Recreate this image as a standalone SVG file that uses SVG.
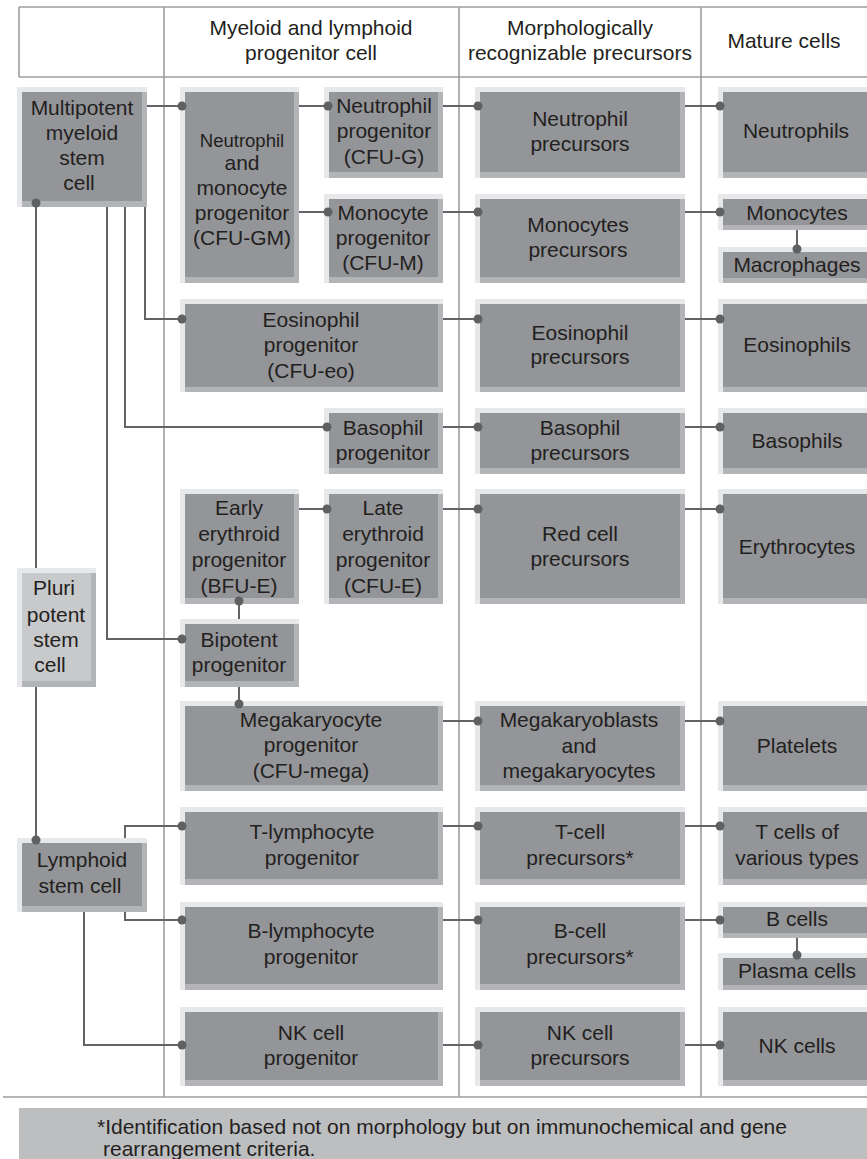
<svg xmlns="http://www.w3.org/2000/svg" width="867" height="1159" viewBox="0 0 867 1159">
<style>
.lt{fill:#e7e8e9}
.md{fill:#b3b4b7}
.dk{fill:#939598}
.pl{fill:#c8c9cb}
.grid{stroke:#9d9ea0;stroke-width:1.6;fill:none}
.con{stroke:#636466;stroke-width:2;fill:none}
.dot{fill:#5f6062}
text{font-family:"Liberation Sans",Arial,sans-serif;font-size:21px;fill:#231f20;text-anchor:middle}
.fn{text-anchor:start}
</style>
<rect width="867" height="1159" fill="#ffffff"/>
<g id="grid">
<path class="grid" d="M19,7H867M19,77H867M19,7V77M164,7V1097M459,7V1097M701,7V1097M3,1097H867"/>
</g>
<g id="headers">
<text x="311" y="35">Myeloid and lymphoid</text>
<text x="311" y="60">progenitor cell</text>
<text x="580" y="35">Morphologically</text>
<text x="580" y="60">recognizable precursors</text>
<text x="784" y="48">Mature cells</text>
</g>
<g id="multipotent">
<rect class="lt" x="17" y="87" width="130" height="120"/><rect class="md" x="22" y="92" width="125" height="115"/><rect class="dk" x="22" y="92" width="120" height="109"/>
<text x="82" y="115">Multipotent</text><text x="82" y="140">myeloid</text><text x="82" y="165">stem</text><text x="79" y="190">cell</text>
</g>
<g id="cfu-gm">
<rect class="lt" x="180" y="87" width="119" height="196"/><rect class="md" x="185" y="92" width="114" height="191"/><rect class="dk" x="185" y="92" width="109" height="185"/>
<text x="242" y="147" style="font-size:18.5px">Neutrophil</text><text x="242" y="170">and</text><text x="242" y="195">monocyte</text><text x="242" y="220">progenitor</text><text x="242" y="245">(CFU-GM)</text>
</g>
<g id="cfu-g">
<rect class="lt" x="324" y="87" width="119" height="91"/><rect class="md" x="329" y="92" width="114" height="86"/><rect class="dk" x="329" y="92" width="109" height="80"/>
<text x="384" y="113">Neutrophil</text><text x="384" y="138">progenitor</text><text x="384" y="164">(CFU-G)</text>
</g>
<g id="cfu-m">
<rect class="lt" x="324" y="194" width="119" height="89"/><rect class="md" x="329" y="199" width="114" height="84"/><rect class="dk" x="329" y="199" width="109" height="78"/>
<text x="383" y="220">Monocyte</text><text x="383" y="245">progenitor</text><text x="383" y="270">(CFU-M)</text>
</g>
<g id="neut-prec">
<rect class="lt" x="475" y="87" width="210" height="91"/><rect class="md" x="480" y="92" width="205" height="86"/><rect class="dk" x="480" y="92" width="200" height="80"/>
<text x="580" y="126">Neutrophil</text><text x="580" y="151">precursors</text>
</g>
<g id="neutrophils">
<rect class="lt" x="718" y="87" width="162" height="91"/><rect class="md" x="723" y="92" width="157" height="86"/><rect class="dk" x="723" y="92" width="152" height="80"/>
<text x="796" y="138">Neutrophils</text>
</g>
<g id="mono-prec">
<rect class="lt" x="475" y="194" width="210" height="89"/><rect class="md" x="480" y="199" width="205" height="84"/><rect class="dk" x="480" y="199" width="200" height="78"/>
<text x="578" y="232">Monocytes</text><text x="578" y="257">precursors</text>
</g>
<g id="monocytes">
<rect class="lt" x="718" y="194" width="162" height="36"/><rect class="md" x="723" y="199" width="157" height="31"/><rect class="dk" x="723" y="199" width="152" height="26"/>
<text x="797" y="220">Monocytes</text>
</g>
<g id="macrophages">
<rect class="lt" x="718" y="247" width="162" height="36"/><rect class="md" x="723" y="252" width="157" height="31"/><rect class="dk" x="723" y="252" width="152" height="26"/>
<text x="797" y="272">Macrophages</text>
</g>
<g id="cfu-eo">
<rect class="lt" x="180" y="299" width="263" height="93"/><rect class="md" x="185" y="304" width="258" height="88"/><rect class="dk" x="185" y="304" width="253" height="83"/>
<text x="311" y="327">Eosinophil</text><text x="311" y="352">progenitor</text><text x="311" y="378">(CFU-eo)</text>
</g>
<g id="eos-prec">
<rect class="lt" x="475" y="299" width="210" height="93"/><rect class="md" x="480" y="304" width="205" height="88"/><rect class="dk" x="480" y="304" width="200" height="83"/>
<text x="580" y="340">Eosinophil</text><text x="580" y="364">precursors</text>
</g>
<g id="eosinophils">
<rect class="lt" x="718" y="299" width="162" height="93"/><rect class="md" x="723" y="304" width="157" height="88"/><rect class="dk" x="723" y="304" width="152" height="83"/>
<text x="797" y="352">Eosinophils</text>
</g>
<g id="baso-prog">
<rect class="lt" x="324" y="408" width="119" height="66"/><rect class="md" x="329" y="413" width="114" height="61"/><rect class="dk" x="329" y="413" width="109" height="55"/>
<text x="383" y="435">Basophil</text><text x="383" y="460">progenitor</text>
</g>
<g id="baso-prec">
<rect class="lt" x="475" y="408" width="210" height="66"/><rect class="md" x="480" y="413" width="205" height="61"/><rect class="dk" x="480" y="413" width="200" height="55"/>
<text x="580" y="435">Basophil</text><text x="580" y="460">precursors</text>
</g>
<g id="basophils">
<rect class="lt" x="718" y="408" width="162" height="66"/><rect class="md" x="723" y="413" width="157" height="61"/><rect class="dk" x="723" y="413" width="152" height="55"/>
<text x="797" y="448">Basophils</text>
</g>
<g id="bfu-e">
<rect class="lt" x="180" y="489" width="119" height="115"/><rect class="md" x="185" y="494" width="114" height="110"/><rect class="dk" x="185" y="494" width="109" height="104"/>
<text x="239" y="515">Early</text><text x="239" y="541">erythroid</text><text x="239" y="567">progenitor</text><text x="239" y="593">(BFU-E)</text>
</g>
<g id="cfu-e">
<rect class="lt" x="324" y="489" width="119" height="115"/><rect class="md" x="329" y="494" width="114" height="110"/><rect class="dk" x="329" y="494" width="109" height="104"/>
<text x="383" y="515">Late</text><text x="383" y="541">erythroid</text><text x="383" y="567">progenitor</text><text x="383" y="593">(CFU-E)</text>
</g>
<g id="red-prec">
<rect class="lt" x="475" y="489" width="210" height="115"/><rect class="md" x="480" y="494" width="205" height="110"/><rect class="dk" x="480" y="494" width="200" height="104"/>
<text x="580" y="541">Red cell</text><text x="580" y="566">precursors</text>
</g>
<g id="erythrocytes">
<rect class="lt" x="718" y="489" width="162" height="115"/><rect class="md" x="723" y="494" width="157" height="110"/><rect class="dk" x="723" y="494" width="152" height="104"/>
<text x="797" y="554">Erythrocytes</text>
</g>
<g id="pluripotent">
<rect class="lt" x="17" y="568" width="79" height="119"/><rect class="md" x="22" y="573" width="74" height="114"/><rect class="pl" x="22" y="573" width="69" height="108"/>
<text x="54" y="595">Pluri</text><text x="56" y="622">potent</text><text x="56" y="647">stem</text><text x="50" y="672">cell</text>
</g>
<g id="bipotent">
<rect class="lt" x="180" y="619" width="119" height="68"/><rect class="md" x="185" y="624" width="114" height="63"/><rect class="dk" x="185" y="624" width="109" height="57"/>
<text x="239" y="647">Bipotent</text><text x="239" y="672">progenitor</text>
</g>
<g id="cfu-mega">
<rect class="lt" x="180" y="701" width="263" height="90"/><rect class="md" x="185" y="706" width="258" height="85"/><rect class="dk" x="185" y="706" width="253" height="79"/>
<text x="311" y="727">Megakaryocyte</text><text x="311" y="752">progenitor</text><text x="311" y="778">(CFU-mega)</text>
</g>
<g id="mega-prec">
<rect class="lt" x="475" y="701" width="210" height="90"/><rect class="md" x="480" y="706" width="205" height="85"/><rect class="dk" x="480" y="706" width="200" height="79"/>
<text x="579" y="727">Megakaryoblasts</text><text x="579" y="753">and</text><text x="579" y="778">megakaryocytes</text>
</g>
<g id="platelets">
<rect class="lt" x="718" y="701" width="162" height="90"/><rect class="md" x="723" y="706" width="157" height="85"/><rect class="dk" x="723" y="706" width="152" height="79"/>
<text x="797" y="753">Platelets</text>
</g>
<g id="lymphoid">
<rect class="lt" x="17" y="838" width="130" height="74"/><rect class="md" x="22" y="843" width="125" height="69"/><rect class="dk" x="22" y="843" width="120" height="63"/>
<text x="82" y="867">Lymphoid</text><text x="80" y="893">stem cell</text>
</g>
<g id="t-prog">
<rect class="lt" x="180" y="807" width="263" height="78"/><rect class="md" x="185" y="812" width="258" height="73"/><rect class="dk" x="185" y="812" width="253" height="67"/>
<text x="312" y="839">T-lymphocyte</text><text x="312" y="865">progenitor</text>
</g>
<g id="t-prec">
<rect class="lt" x="475" y="807" width="210" height="78"/><rect class="md" x="480" y="812" width="205" height="73"/><rect class="dk" x="480" y="812" width="200" height="67"/>
<text x="580" y="839">T-cell</text><text x="580" y="865">precursors*</text>
</g>
<g id="t-cells">
<rect class="lt" x="718" y="807" width="162" height="78"/><rect class="md" x="723" y="812" width="157" height="73"/><rect class="dk" x="723" y="812" width="152" height="67"/>
<text x="797" y="839">T cells of</text><text x="797" y="865">various types</text>
</g>
<g id="b-prog">
<rect class="lt" x="180" y="902" width="263" height="88"/><rect class="md" x="185" y="907" width="258" height="83"/><rect class="dk" x="185" y="907" width="253" height="77"/>
<text x="311" y="938">B-lymphocyte</text><text x="311" y="964">progenitor</text>
</g>
<g id="b-prec">
<rect class="lt" x="475" y="902" width="210" height="88"/><rect class="md" x="480" y="907" width="205" height="83"/><rect class="dk" x="480" y="907" width="200" height="77"/>
<text x="580" y="938">B-cell</text><text x="580" y="964">precursors*</text>
</g>
<g id="b-cells">
<rect class="lt" x="718" y="902" width="162" height="36"/><rect class="md" x="723" y="907" width="157" height="31"/><rect class="dk" x="723" y="907" width="152" height="26"/>
<text x="797" y="926">B cells</text>
</g>
<g id="plasma-cells">
<rect class="lt" x="718" y="953" width="162" height="37"/><rect class="md" x="723" y="958" width="157" height="32"/><rect class="dk" x="723" y="958" width="152" height="27"/>
<text x="797" y="978">Plasma cells</text>
</g>
<g id="nk-prog">
<rect class="lt" x="180" y="1007" width="263" height="79"/><rect class="md" x="185" y="1012" width="258" height="74"/><rect class="dk" x="185" y="1012" width="253" height="68"/>
<text x="311" y="1040">NK cell</text><text x="311" y="1065">progenitor</text>
</g>
<g id="nk-prec">
<rect class="lt" x="475" y="1007" width="210" height="79"/><rect class="md" x="480" y="1012" width="205" height="74"/><rect class="dk" x="480" y="1012" width="200" height="68"/>
<text x="580" y="1040">NK cell</text><text x="580" y="1065">precursors</text>
</g>
<g id="nk-cells">
<rect class="lt" x="718" y="1007" width="162" height="79"/><rect class="md" x="723" y="1012" width="157" height="74"/><rect class="dk" x="723" y="1012" width="152" height="68"/>
<text x="797" y="1053">NK cells</text>
</g>
<g id="connectors">
<path class="con" d="M147,106H182M299,106H328M299,212H328M443,106H478M685,106H720M443,212H478M685,212H720M797,230V249"/>
<path class="con" d="M145,207V319H182M443,319H478M685,319H720"/>
<path class="con" d="M125,207V427H327M443,427H478M685,427H720"/>
<path class="con" d="M107,207V639H182M239,619V601M299,509H327M443,509H478M685,509H720M239,687V704M443,721H478M685,721H720"/>
<path class="con" d="M36,203V568M36,687V840"/>
<path class="con" d="M125,838V826H182M443,826H478M685,826H720"/>
<path class="con" d="M125,912V920H182M443,920H478M685,920H720M797,938V955"/>
<path class="con" d="M84,912V1045H182M443,1045H478M685,1045H720"/>
<circle class="dot" cx="182" cy="106" r="4.5"/>
<circle class="dot" cx="328" cy="106" r="4.5"/>
<circle class="dot" cx="328" cy="212" r="4.5"/>
<circle class="dot" cx="478" cy="106" r="4.5"/>
<circle class="dot" cx="720" cy="106" r="4.5"/>
<circle class="dot" cx="478" cy="212" r="4.5"/>
<circle class="dot" cx="720" cy="212" r="4.5"/>
<circle class="dot" cx="797" cy="249" r="4.5"/>
<circle class="dot" cx="182" cy="319" r="4.5"/>
<circle class="dot" cx="478" cy="319" r="4.5"/>
<circle class="dot" cx="720" cy="319" r="4.5"/>
<circle class="dot" cx="327" cy="427" r="4.5"/>
<circle class="dot" cx="478" cy="427" r="4.5"/>
<circle class="dot" cx="720" cy="427" r="4.5"/>
<circle class="dot" cx="182" cy="639" r="4.5"/>
<circle class="dot" cx="239" cy="601" r="4.5"/>
<circle class="dot" cx="327" cy="509" r="4.5"/>
<circle class="dot" cx="478" cy="509" r="4.5"/>
<circle class="dot" cx="720" cy="509" r="4.5"/>
<circle class="dot" cx="239" cy="704" r="4.5"/>
<circle class="dot" cx="478" cy="721" r="4.5"/>
<circle class="dot" cx="720" cy="721" r="4.5"/>
<circle class="dot" cx="36" cy="203" r="4.5"/>
<circle class="dot" cx="36" cy="840" r="4.5"/>
<circle class="dot" cx="182" cy="826" r="4.5"/>
<circle class="dot" cx="478" cy="826" r="4.5"/>
<circle class="dot" cx="720" cy="826" r="4.5"/>
<circle class="dot" cx="182" cy="920" r="4.5"/>
<circle class="dot" cx="478" cy="920" r="4.5"/>
<circle class="dot" cx="720" cy="920" r="4.5"/>
<circle class="dot" cx="797" cy="955" r="4.5"/>
<circle class="dot" cx="182" cy="1045" r="4.5"/>
<circle class="dot" cx="478" cy="1045" r="4.5"/>
<circle class="dot" cx="720" cy="1045" r="4.5"/>
</g>
<g id="footnote">
<rect x="19" y="1108" width="861" height="60" fill="#bdbec0"/>
<text class="fn" x="97" y="1134">*Identification based not on morphology but on immunochemical and gene</text>
<text class="fn" x="103" y="1156">rearrangement criteria.</text>
</g>
</svg>
